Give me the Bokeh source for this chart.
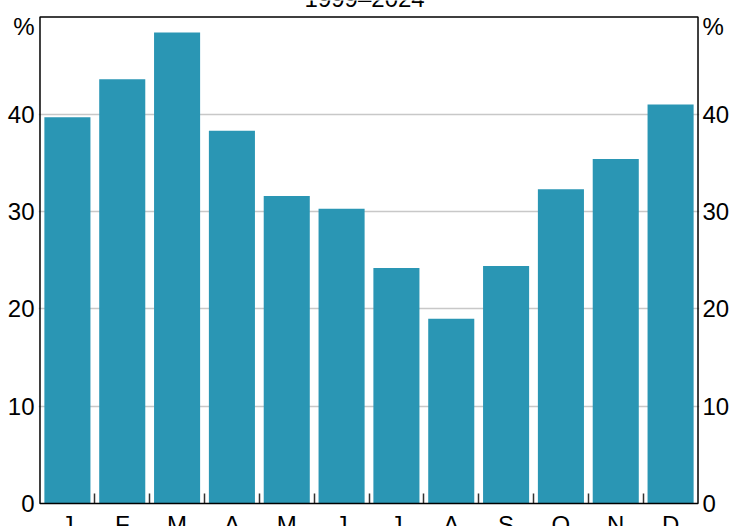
from bokeh.plotting import figure
from bokeh.models import Range1d, FixedTicker, LinearAxis, ColumnDataSource, Label, BoxAnnotation
from bokeh.embed import file_html
from bokeh.resources import INLINE

months = ["J", "F", "M", "A", "M", "J", "J", "A", "S", "O", "N", "D"]
shares = [39.7, 43.6, 48.4, 38.3, 31.6, 30.3, 24.2, 19.0, 24.4, 32.3, 35.4, 41.0]
y_ticks = [0, 10, 20, 30, 40]
title_text = "1999–2024"
unit_label = "%"

FONT = "Liberation Sans"
FS = "24px"
BAR = "#2A96B4"
Y_MAX = 50

# page geometry (pixels)
W, H = 732, 526
BOX_TOP, BOX_BOTTOM = 16.5, 503.0
BORDER_L, BORDER_R = 38, 31
PAD = 1.5                                  # px between frame edge and drawn box
ppu = (BOX_BOTTOM - BOX_TOP) / Y_MAX       # px per y unit
box_w = W - BORDER_L - BORDER_R - 2 * PAD
ppx = box_w / len(months)                  # px per category

y_lo = -(H - BOX_BOTTOM) / ppu
y_hi = Y_MAX + BOX_TOP / ppu
x_lo = 0.5 - PAD / ppx
x_hi = len(months) + 0.5 + PAD / ppx

xs = list(range(1, len(months) + 1))
src = ColumnDataSource(dict(x=xs, top=shares))

p = figure(width=W, height=H, output_backend="svg", toolbar_location=None,
           x_range=Range1d(x_lo, x_hi), y_range=Range1d(y_lo, y_hi),
           min_border_left=BORDER_L, min_border_right=BORDER_R,
           min_border_top=0, min_border_bottom=0,
           background_fill_color="white", border_fill_color="white")
p.outline_line_color = None

p.vbar(x="x", top="top", bottom=0, width=0.84, source=src, fill_color=BAR, line_color=None)

# grid
p.xgrid.visible = False
p.ygrid.ticker = FixedTicker(ticks=y_ticks[1:])
p.ygrid.grid_line_color = "#c8c8c8"
p.ygrid.grid_line_width = 1.5

# chart box
p.add_layout(BoxAnnotation(left=0.5, right=len(months) + 0.5, bottom=0, top=Y_MAX,
                           fill_color=None, fill_alpha=0, line_color="black",
                           line_alpha=1.0, line_width=1.5, level="overlay"))

# x axis: boundary ticks only, sitting on y = 0
xa = p.xaxis[0]
xa.fixed_location = 0
xa.ticker = FixedTicker(ticks=[], minor_ticks=[i + 0.5 for i in xs[:-1]])
xa.major_label_text_font_size = "0px"
xa.major_label_standoff = 0
xa.major_tick_in = 0
xa.major_tick_out = 0
xa.minor_tick_in = 10
xa.minor_tick_out = 0
xa.minor_tick_line_color = "#333333"
xa.minor_tick_line_width = 1.5
xa.axis_line_color = None

# month labels just below the box (cut by the page edge, as in the original)
for x, m in zip(xs, months):
    p.add_layout(Label(x=x, y=-7.5 / ppu, text=m, text_align="center", text_baseline="top",
                       text_font=FONT, text_font_size=FS, text_color="black"))

def style_y(ax, standoff):
    ax.ticker = FixedTicker(ticks=y_ticks + [49])
    ax.major_label_overrides = {49: unit_label}
    ax.major_tick_in = 0
    ax.major_tick_out = 0
    ax.minor_tick_in = 0
    ax.minor_tick_out = 0
    ax.axis_line_color = None
    ax.major_label_standoff = standoff
    ax.major_label_text_font = FONT
    ax.major_label_text_font_size = FS
    ax.major_label_text_color = "black"

style_y(p.yaxis[0], 4)
ry = LinearAxis()
style_y(ry, 3)
p.add_layout(ry, "right")

p.add_layout(Label(x=6.42, y=Y_MAX + 19 / ppu, text=title_text, text_align="center",
                   text_baseline="alphabetic", text_font=FONT, text_font_size=FS,
                   text_color="black"))

open("out.html", "w").write(file_html(p, INLINE))
